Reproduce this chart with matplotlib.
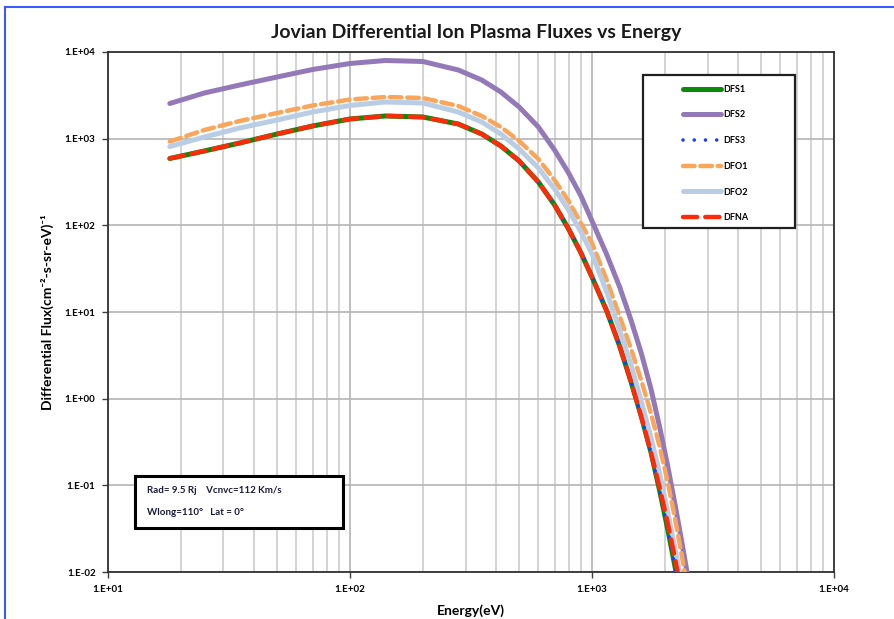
import numpy as np
import matplotlib
matplotlib.use('Agg')
import matplotlib.pyplot as plt
from matplotlib.lines import Line2D
from matplotlib.patches import Rectangle

plt.rcParams['font.family'] = ['Lato', 'DejaVu Sans']

# ======================================================================================================================
# Data (energy in eV, flux in cm^-2 s^-1 sr^-1 eV^-1)
# ======================================================================================================================
energy = [18, 25, 35, 50, 70, 100, 140, 200, 280, 350, 420, 500, 600, 700, 800, 900, 1000,
          1150, 1300, 1450, 1600, 1750, 1900, 2050, 2200, 2350, 2500]

dfs1 = [591, 721, 891, 1132, 1400, 1687, 1827, 1778, 1476, 1132, 823, 553, 316, 172, 90.7, 48, 25.3,
        10.3, 4.05, 1.56, 0.615, 0.243, 0.0883, 0.0322, 0.0117, 0.0045]
dfs2 = [2545, 3365, 4160, 5147, 6281, 7370, 7980, 7770, 6200, 4750, 3455, 2318, 1364, 740, 402, 218, 112,
        46, 19.5, 8.0, 3.3, 1.31, 0.48, 0.172, 0.061, 0.0222, 0.0081]
dfs3 = [591, 721, 891, 1132, 1400, 1687, 1827, 1778, 1476, 1132, 823, 553, 316, 172, 90.7, 48, 25.3,
        10.3, 4.05, 1.56, 0.615, 0.243, 0.0883, 0.0322, 0.0117, 0.0045]
dfo1 = [927, 1259, 1599, 1978, 2414, 2831, 3025, 2946, 2382, 1827, 1364, 940, 582, 333, 191, 106, 62.5,
        23.4, 9.0, 3.74, 1.60, 0.684, 0.284, 0.112, 0.042, 0.0153, 0.0056]
dfo2 = [812, 1045, 1327, 1642, 2031, 2414, 2650, 2580, 2031, 1557, 1132, 760, 459, 263, 150, 83.8, 46.7,
        17.0, 6.2, 2.45, 0.916, 0.361, 0.139, 0.0506, 0.0189, 0.0071]
dfna = [591, 721, 891, 1132, 1400, 1687, 1827, 1778, 1476, 1132, 823, 553, 316, 172, 90.7, 48, 25.3,
        10.3, 4.05, 1.56, 0.615, 0.243, 0.0957, 0.0378, 0.0145, 0.0056]

x_ticks = [1e1, 1e2, 1e3, 1e4]
x_labels = ['1.E+01', '1.E+02', '1.E+03', '1.E+04']
y_ticks = [1e-2, 1e-1, 1e0, 1e1, 1e2, 1e3, 1e4]
y_labels = ['1.E-02', '1.E-01', '1.E+00', '1.E+01', '1.E+02', '1.E+03', '1.E+04']

info_lines = ['Rad= 9.5 Rj    Vcnvc=112 Km/s', 'Wlong=110\u00b0   Lat = 0\u00b0']
# ======================================================================================================================

fig = plt.figure(figsize=(8.95, 6.19), dpi=100)
ax = fig.add_axes([0.1207, 0.0759, 0.8112, 0.8401])

ax.plot(energy[:len(dfs1)], dfs1, color='#0a8a0a', lw=3.6, solid_capstyle='round', label='DFS1', zorder=3)
ax.plot(energy[:len(dfs2)], dfs2, color='#9479b9', lw=3.6, solid_capstyle='round', label='DFS2', zorder=3)
ax.plot(energy[:len(dfs3)], dfs3, color='#1a3cff', lw=2.6, dashes=(0.01, 3.1), dash_capstyle='round',
        label='DFS3', zorder=4)
ax.plot(energy[:len(dfo1)], dfo1, color='#f9a65a', lw=3.2, dashes=(2.6, 1.3), dash_capstyle='round',
        label='DFO1', zorder=3)
ax.plot(energy[:len(dfo2)], dfo2, color='#b9cde5', lw=3.6, solid_capstyle='round', label='DFO2', zorder=3)
ax.plot(energy[:len(dfna)], dfna, color='#ff2a0a', lw=3.2, dashes=(3.2, 1.8), dash_capstyle='round',
        label='DFNA', zorder=5)

ax.set_xscale('log')
ax.set_yscale('log')
ax.set_xlim(1e1, 1e4)
ax.set_ylim(1e-2, 1e4)
ax.set_xticks(x_ticks)
ax.set_xticklabels(x_labels)
ax.set_yticks(y_ticks)
ax.set_yticklabels(y_labels)
ax.yaxis.set_minor_locator(matplotlib.ticker.NullLocator())
ax.tick_params(axis='both', which='major', labelsize=7, length=4, width=1, color='#404040', pad=5)
ax.tick_params(axis='x', which='minor', length=0)
for lbl in ax.get_xticklabels() + ax.get_yticklabels():
    lbl.set_fontweight('bold')

ax.grid(True, which='major', axis='both', color='#b4b4b4', lw=1.2, zorder=0)
ax.grid(True, which='minor', axis='x', color='#cccccc', lw=1.2, zorder=0)
ax.set_axisbelow(True)
for sp in ax.spines.values():
    sp.set_color('#303030')
    sp.set_linewidth(1.3)

fig.text(0.532, 0.948, 'Jovian Differential Ion Plasma Fluxes vs Energy', ha='center', va='center',
         fontsize=14, fontweight='bold', color='#1a1a1a')
ax.set_xlabel('Energy(eV)', fontsize=10, fontweight='bold', labelpad=8)
ax.set_ylabel('Differential Flux(cm\u207b\u00b2-s-sr-eV)\u207b\u00b9', fontsize=10,
              fontweight='bold', labelpad=8)

# Legend: frame drawn separately to match the roomy box of the original
leg = ax.legend(loc='upper left', bbox_to_anchor=(0.792, 0.937), frameon=False, fontsize=6.5,
                handlelength=4.2, handletextpad=0.3, labelspacing=1.85, borderpad=0, borderaxespad=0)
for t in leg.get_texts():
    t.set_fontweight('bold')
ax.add_patch(Rectangle((0.737, 0.6615), 0.209, 0.2945, transform=ax.transAxes, fill=True,
                       facecolor='white', edgecolor='#202020', lw=1.6, zorder=6))
leg.set_zorder(7)

# Info box
ax.add_patch(Rectangle((0.0372, 0.0846), 0.2865, 0.100, transform=ax.transAxes, facecolor='white',
                       edgecolor='black', lw=2.2, zorder=6))
ax.text(0.0537, 0.156, info_lines[0], transform=ax.transAxes, fontsize=7, fontweight='bold',
        va='center', ha='left', color='#1a1a3a', zorder=7)
ax.text(0.0537, 0.115, info_lines[1], transform=ax.transAxes, fontsize=7, fontweight='bold',
        va='center', ha='left', color='#1a1a3a', zorder=7)

# Blue outer frame (partial, as cropped in the original)
fig.add_artist(Line2D([0.0056, 1.0], [0.9887, 0.9887], color='#3b5bff', lw=1.5))
fig.add_artist(Line2D([0.0056, 0.0056], [0.0, 0.9887], color='#3b5bff', lw=1.5))

fig.savefig('out.png', dpi=100)
